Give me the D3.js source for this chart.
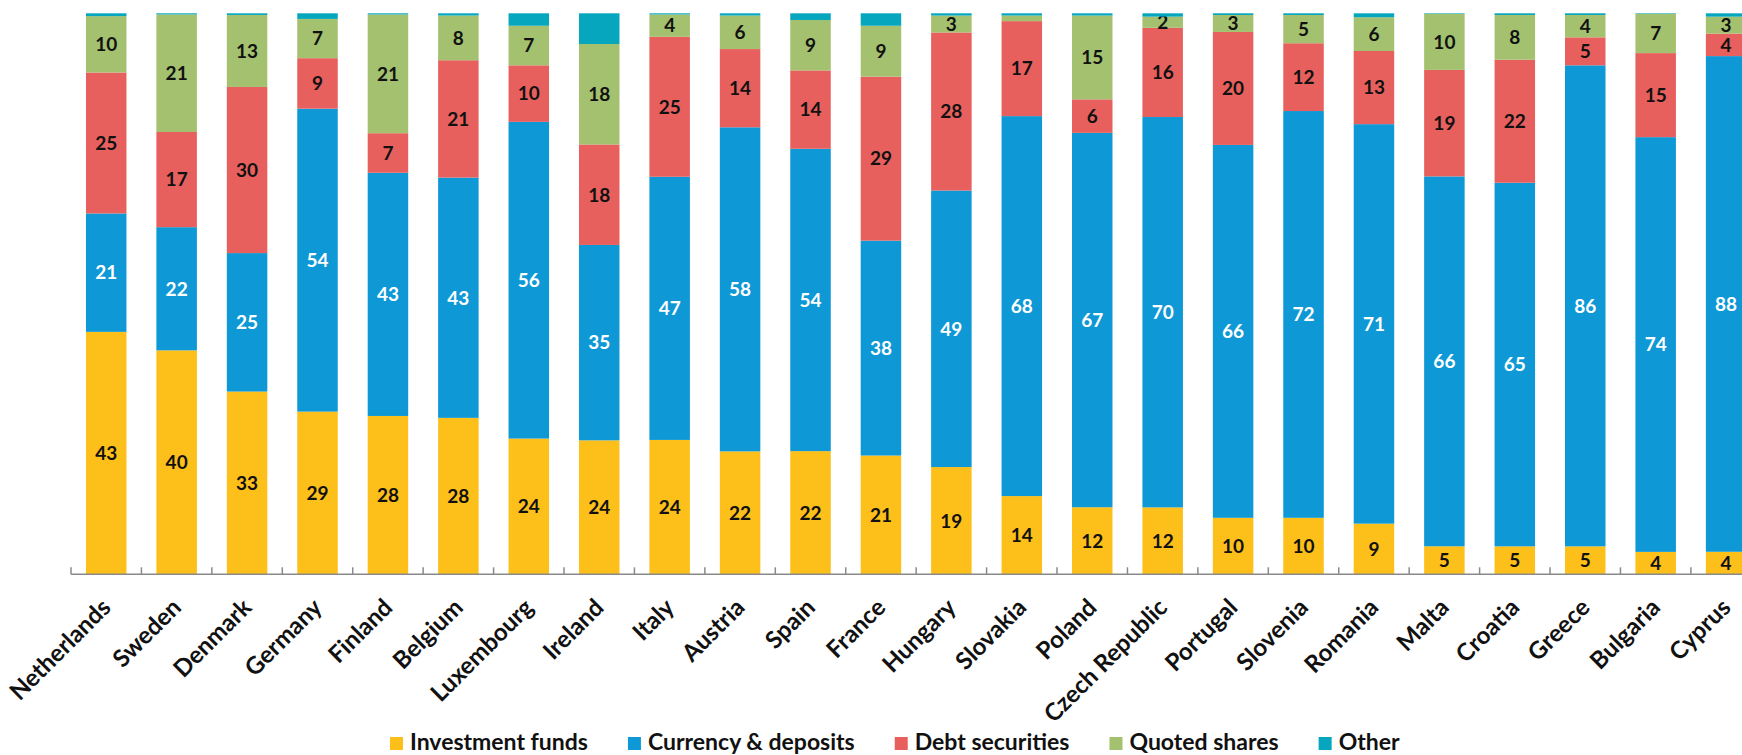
<!DOCTYPE html>
<html>
<head>
<meta charset="utf-8">
<script src="https://cdn.jsdelivr.net/npm/d3@7"></script>
<style>
  html, body { margin: 0; padding: 0; background: #fff; overflow: hidden; }
  svg { display: block; font-family: Lato, "Open Sans", sans-serif; }
</style>
</head>
<body>
<svg id="chart" width="1742" height="755"></svg>
<script>
const countries = ["Netherlands","Sweden","Denmark","Germany","Finland","Belgium","Luxembourg","Ireland","Italy","Austria","Spain","France","Hungary","Slovakia","Poland","Czech Republic","Portugal","Slovenia","Romania","Malta","Croatia","Greece","Bulgaria","Cyprus"];
const investmentFunds   = [43,40,33,29,28,28,24,24,24,22,22,21,19,14,12,12,10,10,9,5,5,5,4,4];
const currencyDeposits  = [21,22,25,54,43,43,56,35,47,58,54,38,49,68,67,70,66,72,71,66,65,86,74,88];
const debtSecurities    = [25,17,30,9,7,21,10,18,25,14,14,29,28,17,6,16,20,12,13,19,22,5,15,4];
const quotedShares      = [10,21,13,7,21,8,7,18,4,6,9,9,3,1,15,2,3,5,6,10,8,4,7,3];
const other             = [0.5,0.2,0.3,1,0.2,0.4,2.2,5.5,0.2,0.4,1.2,2.2,0.4,0.4,0.4,0.6,0.3,0.3,0.7,0.1,0.3,0.3,0.1,0.6];

const seriesNames = ["Investment funds","Currency & deposits","Debt securities","Quoted shares","Other"];
const seriesKeys = ["if","cd","ds","qs","ot"];
const colors = ["#FDBF1A","#0E98D5","#E8605D","#A3C16E","#05A6BE"];
const labelColors = ["#111","#fff","#111","#111",null];

const rows = countries.map((c,i) => ({country:c, if:investmentFunds[i], cd:currencyDeposits[i], ds:debtSecurities[i], qs:quotedShares[i], ot:other[i]}));

const svg = d3.select("#chart");
const baseY = 574.3, topY = 13.3, left = 71, step = 70.43;

const x = d3.scaleBand().domain(countries)
  .range([left, left + step * countries.length])
  .paddingInner(0.425).paddingOuter(0.2125);
const y = d3.scaleLinear().domain([0,1]).range([baseY, topY]);

const stack = d3.stack().keys(seriesKeys).offset(d3.stackOffsetExpand);
const stacked = stack(rows);

const g = svg.append("g");
stacked.forEach((layer, si) => {
  const lg = g.append("g").attr("fill", colors[si]);
  lg.selectAll("rect").data(layer).join("rect")
    .attr("x", d => x(d.data.country))
    .attr("width", x.bandwidth())
    .attr("y", d => y(d[1]))
    .attr("height", d => y(d[0]) - y(d[1]));
  if (labelColors[si]) {
    g.append("g").selectAll("text").data(layer.filter(d => d.data[seriesKeys[si]] >= 2)).join("text")
      .attr("x", d => x(d.data.country) + x.bandwidth()/2)
      .attr("y", d => (y(d[0]) + y(d[1]))/2)
      .attr("dy", "0.36em")
      .attr("text-anchor", "middle")
      .attr("font-size", 19)
      .attr("font-weight", 700)
      .attr("fill", labelColors[si])
      .text(d => d.data[seriesKeys[si]]);
  }
});

// axis
const axisColor = "#8a8a8a";
svg.append("line").attr("x1", left).attr("x2", 1742).attr("y1", baseY).attr("y2", baseY)
  .attr("stroke", axisColor).attr("stroke-width", 1.5);
const gap = x.step() - x.bandwidth();
const tickXs = countries.map(c => x(c) - gap/2).concat([x(countries[countries.length-1]) + x.bandwidth() + gap/2]);
svg.append("g").selectAll("line").data(tickXs).join("line")
  .attr("x1", d => d).attr("x2", d => d)
  .attr("y1", baseY - 7).attr("y2", baseY)
  .attr("stroke", axisColor).attr("stroke-width", 1.5);

// category labels
svg.append("g").selectAll("text").data(countries).join("text")
  .attr("transform", c => `translate(${x(c) + x.bandwidth()/2 + 6},${609}) rotate(-45)`)
  .attr("text-anchor", "end")
  .attr("font-size", 24)
  .attr("font-weight", 700)
  .attr("fill", "#111")
  .text(c => c);

// legend
const legend = svg.append("g");
let lx = 390;
const ly = 737;
seriesNames.forEach((name, i) => {
  legend.append("rect").attr("x", lx).attr("y", ly).attr("width", 13).attr("height", 13).attr("fill", colors[i]);
  const t = legend.append("text").attr("x", lx + 20).attr("y", ly + 13)
    .attr("font-size", 23).attr("font-weight", 700).attr("fill", "#111").text(name);
  lx += 20 + t.node().getComputedTextLength() + 40;
});
</script>
</body>
</html>
